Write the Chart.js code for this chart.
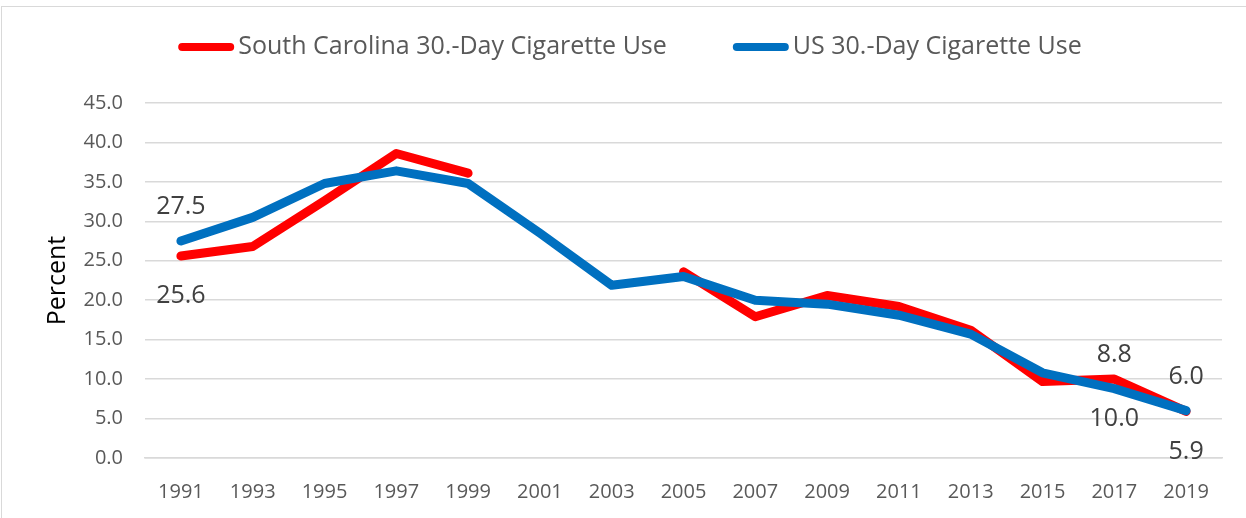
<!DOCTYPE html>
<html>
<head>
<meta charset="utf-8">
<script src="https://cdn.jsdelivr.net/npm/chart.js@4.4.1/dist/chart.umd.min.js"></script>
<style>
  html, body { margin: 0; padding: 0; background: #fff; }
  #wrap { position: relative; width: 1246px; height: 518px; overflow: hidden; }
  #frame { position: absolute; left: 1px; top: 6px; width: 1300px; height: 600px; border: 1px solid #d9d9d9; box-sizing: border-box; }
  canvas { position: absolute; left: 0; top: 0; }
</style>
</head>
<body>
<div id="wrap">
  <div id="frame"></div>
  <canvas id="chart" width="1246" height="518"></canvas>
</div>
<script>
// survey years
const years = ['1991', '1993', '1995', '1997', '1999', '2001', '2003', '2005', '2007', '2009', '2011', '2013', '2015', '2017', '2019'];
// South Carolina 30-day cigarette use (no data 2001, 2003)
const scValues = [25.6, 26.8, 32.6, 38.6, 36.1, null, null, 23.6, 17.9, 20.6, 19.2, 16.2, 9.7, 10.0, 5.9];
// US 30-day cigarette use
const usValues = [27.5, 30.5, 34.8, 36.4, 34.8, 28.5, 21.9, 23.0, 20.0, 19.5, 18.1, 15.7, 10.8, 8.8, 6.0];
const yTicks = [0, 5, 10, 15, 20, 25, 30, 35, 40, 45];
// points that carry a value label
const labelledYears = ['1991', '2017', '2019'];

const FONT = 'Open Sans';

// draws the few value labels on the chart (US above, SC below)
const valueLabels = {
    id: 'valueLabels',
    afterDatasetsDraw(chart) {
        const ctx = chart.ctx;
        const xs = chart.scales.x, ys = chart.scales.y;
        ctx.save();
        ctx.font = '25px "' + FONT + '"';
        ctx.fillStyle = '#404040';
        ctx.textAlign = 'center';
        ctx.textBaseline = 'middle';
        labelledYears.forEach(yr => {
            const i = years.indexOf(yr);
            const x = xs.getPixelForValue(i);
            const us = usValues[i], sc = scValues[i];
            ctx.fillText(us.toFixed(1), x, ys.getPixelForValue(us) - 34);
            ctx.fillText(sc.toFixed(1), x, ys.getPixelForValue(sc) + 40);
        });
        ctx.restore();
    }
};

// Excel style legend: thick line swatch right against the text
const lineLegend = {
    id: 'lineLegend',
    afterDraw(chart) {
        const ctx = chart.ctx;
        const sets = chart.data.datasets;
        const swatch = 56, gap = 4, itemGap = 66, y = 47;
        ctx.save();
        ctx.font = '25px "' + FONT + '"';
        const widths = sets.map(ds => ctx.measureText(ds.label).width);
        const total = widths.reduce((a, w) => a + swatch + gap + w, 0) + itemGap * (sets.length - 1);
        let x = chart.width / 2 - total / 2 + 7;
        sets.forEach((ds, i) => {
            ctx.strokeStyle = ds.borderColor;
            ctx.lineWidth = 8;
            ctx.lineCap = 'round';
            ctx.beginPath();
            ctx.moveTo(x + 4, y);
            ctx.lineTo(x + swatch - 4, y);
            ctx.stroke();
            ctx.fillStyle = '#595959';
            ctx.textAlign = 'left';
            ctx.textBaseline = 'middle';
            ctx.fillText(ds.label, x + swatch + gap, y);
            x += swatch + gap + widths[i] + itemGap;
        });
        ctx.restore();
    }
};

const ctx = document.getElementById('chart').getContext('2d');
new Chart(ctx, {
    type: 'line',
    data: {
        labels: years,
        datasets: [{
            label: 'South Carolina 30.-Day Cigarette Use',
            data: scValues,
            borderColor: '#ff0000',
            backgroundColor: '#ff0000',
            borderWidth: 9,
            pointRadius: 0,
            borderJoinStyle: 'round',
            borderCapStyle: 'round',
            spanGaps: false,
            order: 2
        }, {
            label: 'US 30.-Day Cigarette Use',
            data: usValues,
            borderColor: '#0070c0',
            backgroundColor: '#0070c0',
            borderWidth: 9,
            pointRadius: 0,
            borderJoinStyle: 'round',
            borderCapStyle: 'round',
            order: 1
        }]
    },
    options: {
        responsive: false,
        animation: false,
        layout: { padding: { left: 0, right: 24, top: 103, bottom: 0 } },
        plugins: {
            tooltip: { enabled: false },
            legend: { display: false }
        },
        scales: {
            x: {
                offset: true,
                afterFit(axis) { axis.height = 60; },
                grid: { display: false, drawTicks: false },
                border: { display: true, color: '#d9d9d9', width: 1.5 },
                ticks: { font: { family: FONT, size: 20 }, color: '#595959', padding: 22, maxRotation: 0, autoSkip: false }
            },
            y: {
                min: 0,
                max: 45,
                afterBuildTicks(axis) { axis.ticks = yTicks.map(v => ({ value: v })); },
                afterFit(axis) { axis.width = 145; },
                grid: { color: '#d9d9d9', lineWidth: 1.5, drawTicks: false },
                border: { display: false },
                ticks: {
                    font: { family: FONT, size: 20 },
                    color: '#595959',
                    padding: 22,
                    callback: v => v.toFixed(1)
                },
                title: {
                    display: true,
                    text: 'Percent',
                    font: { family: FONT, size: 25 },
                    color: '#000',
                    padding: { top: 43, bottom: 0 }
                }
            }
        }
    },
    plugins: [valueLabels, lineLegend]
});
</script>
</body>
</html>
